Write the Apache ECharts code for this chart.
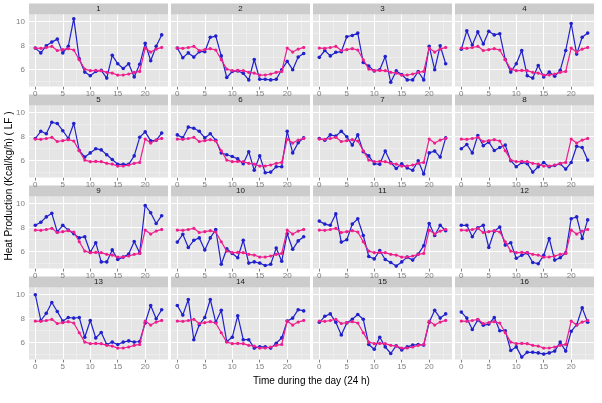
<!DOCTYPE html>
<html><head><meta charset="utf-8">
<script src="https://cdn.jsdelivr.net/npm/echarts@6/dist/echarts.min.js"></script>
<style>html,body{margin:0;padding:0;background:#fff}#c{width:602px;height:403px}</style>
</head><body><div id="c"></div>
<script>
// ---------------- data ----------------
const hours = [0,1,2,3,4,5,6,7,8,9,10,11,12,13,14,15,16,17,18,19,20,21,22,23];
const xTicks = [0,5,10,15,20];
const yTicks = [6,8,10];
const xMinor = [2.5,7.5,12.5,17.5,22.5];
const yMinor = [5,7,9];
const panelLabels = ['1','2','3','4','5','6','7','8','9','10','11','12','13','14','15','16'];

const groupMean = [7.8,7.78,7.85,7.95,7.6,7.67,7.75,7.64,6.83,6.05,5.92,5.94,5.92,5.78,5.72,5.55,5.56,5.64,5.78,5.86,7.8,7.47,7.72,7.86];

const subject1  = [7.8,7.4,8.0,8.3,8.55,7.4,7.95,10.25,6.9,5.8,5.5,5.85,5.95,5.3,7.2,6.5,6.1,6.5,5.4,6.45,8.2,6.75,7.95,8.9];
const subject2  = [7.8,7.0,7.4,7.05,7.5,7.5,8.7,8.8,7.15,5.35,5.85,5.9,5.7,5.15,6.85,5.2,5.2,5.15,5.2,6.0,6.7,6.0,7.05,7.35];
const subject3  = [7.03,7.6,7.15,7.45,7.5,8.75,8.85,9.05,6.6,6.3,5.9,6.0,7.1,4.95,5.9,5.6,5.15,5.15,5.85,5.15,7.95,6.0,8.0,6.5];
const subject4  = [7.7,9.25,8.05,9.15,8.15,9.2,8.9,9.0,6.85,5.8,6.5,7.6,5.5,5.3,6.35,5.4,5.8,5.45,5.95,7.6,9.85,7.3,8.7,9.05];
const subject5  = [7.85,8.45,8.25,9.2,9.1,8.5,7.85,9.1,6.85,6.3,6.65,7.0,6.9,6.5,6.1,5.7,5.7,5.7,6.4,7.95,8.4,7.65,7.7,8.3];
const subject6  = [8.15,7.9,8.8,8.7,8.45,7.9,8.25,7.7,6.65,6.5,6.35,6.15,5.75,6.75,5.2,6.4,5.0,5.05,5.5,5.5,8.45,6.65,7.5,7.9];
const subject7  = [7.85,7.7,8.15,8.05,8.45,8.0,7.3,8.15,6.75,6.4,5.75,5.7,6.8,5.85,5.35,5.75,5.4,5.2,6.0,4.9,6.65,6.8,6.3,7.9];
const subject8  = [7.0,7.35,6.65,8.1,7.25,7.55,6.85,7.1,7.3,6.0,5.5,5.85,5.75,5.05,5.5,5.85,5.5,5.6,5.75,5.3,5.85,7.2,7.1,6.05];
const subject9  = [8.2,8.45,8.9,9.2,7.65,8.2,7.8,7.5,7.15,7.25,5.95,6.75,5.15,5.15,6.15,5.35,5.55,5.8,6.85,5.9,9.85,9.25,8.35,9.0];
const subject10 = [6.8,7.45,6.35,6.95,7.15,6.15,7.15,7.85,4.95,6.25,5.85,5.5,6.95,5.05,5.15,5.05,4.85,4.95,6.3,5.2,7.5,6.2,6.9,7.25];
const subject11 = [8.55,8.3,8.2,9.15,6.8,7.0,8.3,8.75,7.35,5.6,5.4,6.1,5.35,5.1,4.8,5.15,5.55,5.3,5.8,6.5,8.35,7.35,8.2,7.75];
const subject12 = [8.2,8.2,7.25,8.0,8.2,6.35,7.7,8.05,6.55,6.75,5.45,5.7,5.9,5.1,5.0,5.7,7.1,5.3,5.5,5.9,8.75,8.9,7.1,8.65];
const subject13 = [10.0,7.85,8.45,9.35,8.6,7.8,8.1,8.05,8.1,6.45,7.85,6.4,6.85,5.85,6.05,5.85,6.05,6.15,6.05,6.1,7.65,9.1,8.0,8.75];
const subject14 = [9.1,8.3,9.6,6.25,7.5,8.1,9.6,7.7,8.7,6.1,6.45,8.25,6.25,6.25,5.55,5.65,5.65,5.55,5.95,6.4,7.8,8.05,8.75,8.65];
const subject15 = [7.7,8.2,8.4,7.7,6.65,7.65,7.95,8.35,7.95,5.85,5.45,6.45,5.65,5.1,5.75,5.4,5.65,5.8,5.85,5.8,7.7,8.7,8.05,8.4];
const subject16 = [8.55,8.05,7.1,7.9,7.45,7.55,8.1,7.0,7.0,5.35,5.65,4.8,5.2,5.2,5.15,5.05,5.15,5.3,6.05,5.3,6.95,7.5,8.9,7.7];

const subjects = [subject1,subject2,subject3,subject4,subject5,subject6,subject7,subject8,
                  subject9,subject10,subject11,subject12,subject13,subject14,subject15,subject16];

// ---------------- layout ----------------
const FONT = '"Liberation Sans", Arial, Helvetica, sans-serif';
const lefts = [29, 171, 313, 455];
const panelW = 139;
const tops = [14.5, 105.5, 196.5, 287.5];
const panelH = 72;
const stripH = 11;
const blue = '#2020CC';
const pink = '#EE1E8C';

const grids = [], xAxes = [], yAxes = [], series = [], graphics = [];
const pair = arr => hours.map((h, i) => [h, arr[i]]);

for (let i = 0; i < 16; i++) {
  const r = Math.floor(i / 4), c = i % 4;
  grids.push({left: lefts[c], top: tops[r], width: panelW, height: panelH,
    show: true, backgroundColor: '#E5E5E5', borderWidth: 0, containLabel: false});
  xAxes.push({type: 'value', gridIndex: i, min: -1.15, max: 24.15,
    axisLine: {show: false},
    axisTick: {show: true, customValues: xTicks, length: 3, lineStyle: {color: '#7F7F7F', width: 1}},
    axisLabel: {show: true, customValues: xTicks, color: '#7F7F7F', fontSize: 8, fontFamily: FONT, margin: 3},
    splitLine: {show: false}});
  yAxes.push({type: 'value', gridIndex: i, min: 4.6, max: 10.6,
    axisLine: {show: false},
    axisTick: {show: c === 0, customValues: yTicks, length: 3, lineStyle: {color: '#7F7F7F', width: 1}},
    axisLabel: {show: c === 0, customValues: yTicks, color: '#7F7F7F', fontSize: 8, fontFamily: FONT, margin: 4},
    splitLine: {show: false}});

  const minorStyle = {color: '#F2F2F2', width: 0.6, type: 'solid'};
  const majorStyle = {color: '#FFFFFF', width: 1, type: 'solid'};
  const lines = [];
  xMinor.forEach(v => lines.push({xAxis: v, lineStyle: minorStyle}));
  yMinor.forEach(v => lines.push({yAxis: v, lineStyle: minorStyle}));
  xTicks.forEach(v => lines.push({xAxis: v, lineStyle: majorStyle}));
  yTicks.forEach(v => lines.push({yAxis: v, lineStyle: majorStyle}));
  series.push({type: 'line', xAxisIndex: i, yAxisIndex: i, data: pair(groupMean),
    showSymbol: false, lineStyle: {opacity: 0, width: 0}, silent: true, z: 1,
    markLine: {silent: true, symbol: 'none', z: 1, label: {show: false}, animation: false, data: lines}});
  series.push({type: 'line', xAxisIndex: i, yAxisIndex: i, data: pair(subjects[i]),
    symbol: 'circle', symbolSize: 3.6, showAllSymbol: true, z: 3,
    itemStyle: {color: blue}, lineStyle: {color: blue, width: 1.2}});
  series.push({type: 'line', xAxisIndex: i, yAxisIndex: i, data: pair(groupMean),
    symbol: 'circle', symbolSize: 3.2, showAllSymbol: true, z: 4,
    itemStyle: {color: pink}, lineStyle: {color: pink, width: 1.2}});

  graphics.push({type: 'rect', shape: {x: lefts[c], y: tops[r] - stripH, width: panelW, height: stripH},
    style: {fill: '#CCCCCC'}, silent: true});
  graphics.push({type: 'text', x: lefts[c] + panelW / 2, y: tops[r] - stripH / 2,
    style: {text: panelLabels[i], fill: '#1A1A1A', font: '8px ' + FONT, textAlign: 'center', textVerticalAlign: 'middle'}, silent: true});
}

graphics.push({type: 'text', x: 9, y: 186, rotation: Math.PI / 2,
  style: {text: 'Heat Production (Kcal/kg/h) ( LF )', fill: '#000', font: '10px ' + FONT, textAlign: 'center', textVerticalAlign: 'middle'}});
graphics.push({type: 'text', x: 311.5, y: 381,
  style: {text: 'Time during the day (24 h)', fill: '#000', font: '10px ' + FONT, textAlign: 'center', textVerticalAlign: 'middle'}});

const chart = echarts.init(document.getElementById('c'), null, {renderer: 'canvas'});
chart.setOption({animation: false, backgroundColor: '#FFFFFF',
  grid: grids, xAxis: xAxes, yAxis: yAxes, series: series, graphic: graphics});
</script></body></html>
